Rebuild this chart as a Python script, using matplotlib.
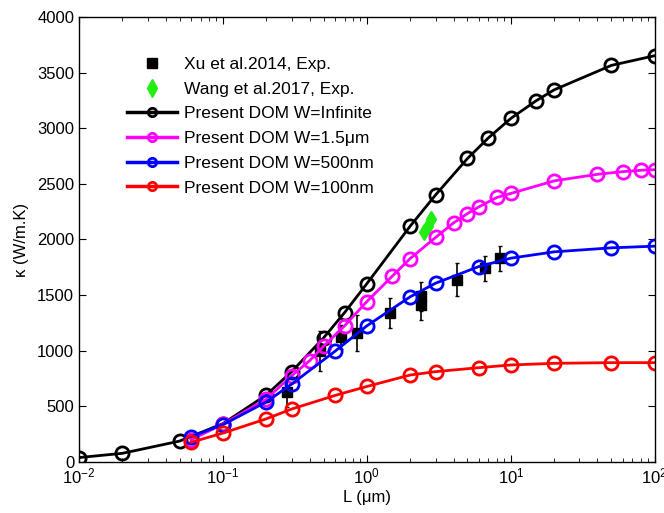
import numpy as np
import matplotlib.pyplot as plt
from matplotlib.lines import Line2D
from matplotlib.ticker import LogLocator, NullFormatter

plt.rcParams['font.family'] = ['Liberation Sans', 'DejaVu Sans']
plt.rcParams['mathtext.fontset'] = 'custom'
plt.rcParams['mathtext.rm'] = 'Liberation Sans'

# Xu et al. 2014 experiment
xu_L = [0.28, 0.47, 0.66, 0.86, 1.44, 2.36, 2.38, 4.24, 6.6, 8.4]
xu_k = [630, 1000, 1125, 1160, 1340, 1490, 1410, 1640, 1740, 1830]
xu_err = [140, 180, 110, 160, 135, 130, 130, 145, 112, 112]

# Wang et al. 2017 experiment
wang_L = [2.5, 2.65, 2.8]
wang_k = [2070, 2120, 2180]
wang_err = [40, 50, 60]

# DOM results
L_inf = [0.01, 0.02, 0.05, 0.1, 0.2, 0.3, 0.5, 0.7, 1, 2, 3, 5, 7, 10, 15, 20, 50, 100]
k_inf = [40, 78, 188, 345, 602, 812, 1115, 1343, 1603, 2120, 2400, 2728, 2914, 3088, 3247, 3345, 3565, 3652]

L_15 = [0.06, 0.1, 0.2, 0.3, 0.4, 0.5, 0.7, 1, 1.5, 2, 3, 4, 5, 6, 8, 10, 20, 40, 60, 80, 100]
k_15 = [200, 340, 565, 775, 910, 1040, 1224, 1442, 1670, 1829, 2018, 2149, 2233, 2293, 2378, 2414, 2527, 2586, 2610, 2622, 2628]

L_500 = [0.06, 0.1, 0.2, 0.3, 0.6, 1, 2, 3, 6, 10, 20, 50, 100]
k_500 = [228, 335, 540, 700, 995, 1224, 1485, 1607, 1757, 1832, 1889, 1925, 1940]

L_100 = [0.06, 0.1, 0.2, 0.3, 0.6, 1, 2, 3, 6, 10, 20, 50, 100]
k_100 = [177, 260, 388, 476, 598, 679, 782, 812, 848, 872, 887, 893, 893]

green = '#22ee11'
magenta = '#ff00ff'
blue = '#0000ff'
red = '#ff0000'

fig = plt.figure(figsize=(6.64, 5.13), dpi=100)
ax = fig.add_axes([0.119, 0.0994, 0.867, 0.8675])

# experimental points with error bars
ax.errorbar(xu_L, xu_k, yerr=xu_err, fmt='none', ecolor='k', elinewidth=1.2, capsize=1.5)
ax.plot(xu_L, xu_k, 's', color='k', ms=7)
ax.errorbar(wang_L, wang_k, yerr=wang_err, fmt='none', ecolor=green, elinewidth=1.2, capsize=1.5)
ax.plot(wang_L, wang_k, 'd', color=green, ms=8)

style = dict(marker='o', mfc='none', ms=9.5, mew=2, lw=2)
ax.plot(L_inf, k_inf, color='k', **style)
ax.plot(L_15, k_15, color=magenta, **style)
ax.plot(L_500, k_500, color=blue, **style)
ax.plot(L_100, k_100, color=red, **style)

ax.set_xscale('log')
ax.set_xlim(1e-2, 1e2)
ax.set_ylim(0, 4000)
ax.set_yticks(np.arange(0, 4001, 500))
ax.xaxis.set_major_locator(LogLocator(base=10, numticks=10))
ax.xaxis.set_minor_locator(LogLocator(base=10, subs=np.arange(2, 10), numticks=10))
ax.xaxis.set_minor_formatter(NullFormatter())
ax.tick_params(which='both', direction='in', top=True, right=True, labelsize=12)
ax.tick_params(which='major', length=5)
ax.tick_params(which='minor', length=3)
for s in ax.spines.values():
    s.set_linewidth(1)

ax.set_xlabel(u'L (\u03bcm)', fontsize=12, labelpad=2)
ax.set_ylabel(u'\u03ba (W/m.K)', fontsize=12, labelpad=6)

# legend entries with smaller markers than the plotted ones
leg_circle = dict(marker='o', mfc='none', ms=6, mew=2, lw=2.5)
handles = [
    Line2D([], [], ls='none', marker='s', color='k', ms=6.5),
    Line2D([], [], ls='none', marker='d', color=green, ms=9),
    Line2D([], [], color='k', **leg_circle),
    Line2D([], [], color=magenta, **leg_circle),
    Line2D([], [], color=blue, **leg_circle),
    Line2D([], [], color=red, **leg_circle),
]
labels = ['Xu et al.2014, Exp.', 'Wang et al.2017, Exp.', 'Present DOM W=Infinite',
          u'Present DOM W=1.5\u03bcm', 'Present DOM W=500nm', 'Present DOM W=100nm']
ax.legend(handles, labels, loc='upper left', bbox_to_anchor=(0.071, 0.926), frameon=False,
          fontsize=12.5, handlelength=2.9, handletextpad=0.4, labelspacing=0.55,
          borderaxespad=0)

fig.savefig('out.png', dpi=100)
